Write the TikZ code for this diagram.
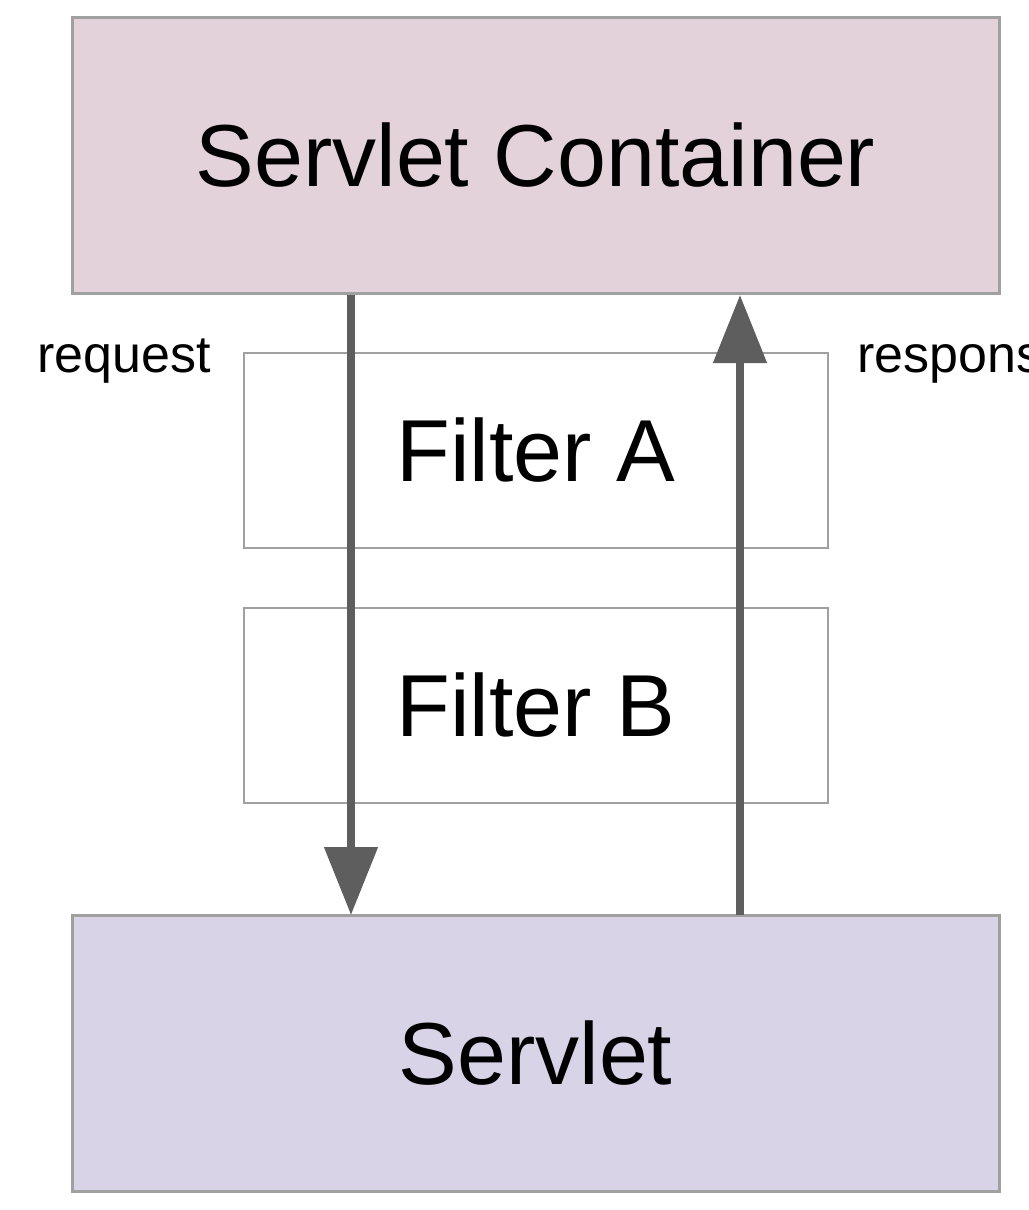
\documentclass[tikz,border=0pt]{standalone}
\usepackage{fontspec}
\setmainfont{Liberation Sans}
\usetikzlibrary{arrows.meta}
\definecolor{pinkfill}{HTML}{E4D2DB}
\definecolor{lavfill}{HTML}{D9D3E7}
\definecolor{boxline}{HTML}{A0A0A0}
\definecolor{arrowgray}{HTML}{5E5E5E}
\tikzset{
  bigbox/.style={draw=boxline, line width=3pt, minimum width=927pt, minimum height=276pt, inner sep=0pt, font=\fontsize{88}{100}\selectfont},
  filterbox/.style={draw=boxline, line width=2pt, fill=white, minimum width=584pt, minimum height=195pt, inner sep=0pt, font=\fontsize{88}{100}\selectfont},
  flow/.style={draw=arrowgray, line width=8pt, -{Triangle[width=52pt,length=68pt]}},
  lbl/.style={font=\fontsize{52}{60}\selectfont, inner sep=0pt, anchor=base west}
}
\begin{document}
\begin{tikzpicture}[x=1pt,y=-1pt]
\useasboundingbox (0,0) rectangle (1028,1210);
\clip (0,0) rectangle (1028,1210);
\node[bigbox, fill=pinkfill] (container) at (535.5,155) {Servlet Container};
\node[filterbox] (fa) at (536,450.5) {Filter A};
\node[filterbox] (fb) at (536,705.5) {Filter B};
\node[bigbox, fill=lavfill] (servlet) at (535.5,1053.5) {Servlet};
\node[lbl] (req) at (37,372) {request};
\node[lbl] (resp) at (857,372) {response};
\coordinate (reqtop) at (351,294.5);
\coordinate (reqbot) at (351,915);
\coordinate (resbot) at (740,915);
\coordinate (restop) at (740,295);
\draw[flow] (reqtop) -- (reqbot);
\draw[flow] (resbot) -- (restop);
\end{tikzpicture}
\end{document}
